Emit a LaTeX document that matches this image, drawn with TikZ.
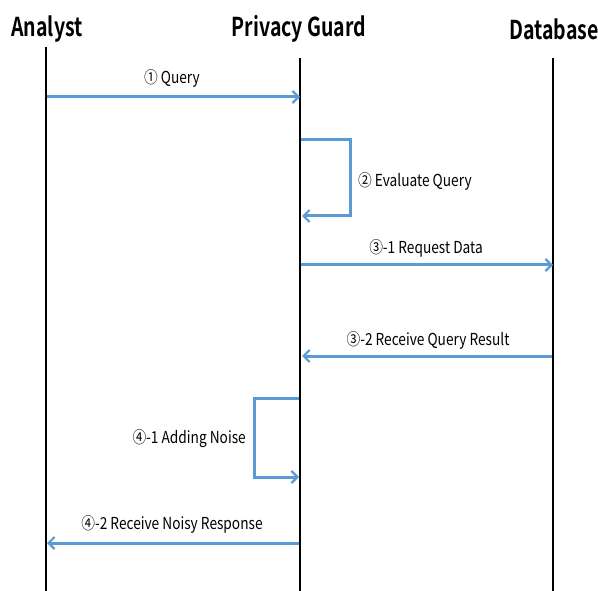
\documentclass[tikz,border=0pt]{standalone}
\usepackage{fontspec}
\setmainfont{Noto Sans CJK KR}
\newfontfamily\headfont{Noto Sans CJK KR}[BoldFont={* Bold}]
\usetikzlibrary{arrows.meta}
\definecolor{msgblue}{HTML}{5B9BD5}
\tikzset{
  head/.style={font=\headfont\bfseries\fontsize{26}{28}\selectfont, inner sep=0pt},
  life/.style={draw=black, line width=2pt},
  msg/.style={draw=msgblue, line width=3pt, -{Straight Barb[length=6pt,width=12pt,line width=2.2pt]}},
  lbl/.style={font=\fontsize{16.5}{18}\selectfont, inner sep=0pt, text=black}
}
\begin{document}
\begin{tikzpicture}[x=1pt,y=-1pt]
\useasboundingbox (0,0) rectangle (598,591);
\node[head] (ha) at (47,29) {\scalebox{0.75}[1]{Analyst}};
\node[head] (hp) at (299,29) {\scalebox{0.75}[1]{Privacy Guard}};
\node[head] (hd) at (554,29) {\scalebox{0.75}[1]{Database}};
\coordinate (a0) at (46,47);  \coordinate (a1) at (46,591);
\coordinate (p0) at (300,58); \coordinate (p1) at (300,591);
\coordinate (d0) at (553,58); \coordinate (d1) at (553,591);
\draw[life] (a0) -- (a1);
\draw[life] (p0) -- (p1);
\draw[life] (d0) -- (d1);
% 1
\coordinate (q1s) at (47,97); \coordinate (q1e) at (300,97);
\draw[msg] (q1s) -- (q1e);
\node[lbl] (l1) at (172,78) {\scalebox{0.83}[1]{① Query}};
% 2
\coordinate (q2s) at (301,140); \coordinate (q2a) at (350,140);
\coordinate (q2b) at (350,216); \coordinate (q2e) at (302,216);
\draw[msg] (q2s) -- (q2a) -- (q2b) -- (q2e);
\node[lbl, anchor=west] (l2) at (358,181) {\scalebox{0.83}[1]{② Evaluate Query}};
% 3-1
\coordinate (q3s) at (301,265); \coordinate (q3e) at (553,265);
\draw[msg] (q3s) -- (q3e);
\node[lbl] (l3) at (426,248) {\scalebox{0.83}[1]{③-1 Request Data}};
% 3-2
\coordinate (q4s) at (552,356); \coordinate (q4e) at (302,356);
\draw[msg] (q4s) -- (q4e);
\node[lbl] (l4) at (428,340) {\scalebox{0.83}[1]{③-2 Receive Query Result}};
% 4-1
\coordinate (q5s) at (299,398); \coordinate (q5a) at (254,398);
\coordinate (q5b) at (254,477); \coordinate (q5e) at (299,477);
\draw[msg] (q5s) -- (q5a) -- (q5b) -- (q5e);
\node[lbl, anchor=east] (l5) at (246,439) {\scalebox{0.83}[1]{④-1 Adding Noise}};
% 4-2
\coordinate (q6s) at (299,543); \coordinate (q6e) at (47,543);
\draw[msg] (q6s) -- (q6e);
\node[lbl] (l6) at (172,524) {\scalebox{0.83}[1]{④-2 Receive Noisy Response}};
\end{tikzpicture}
\end{document}
